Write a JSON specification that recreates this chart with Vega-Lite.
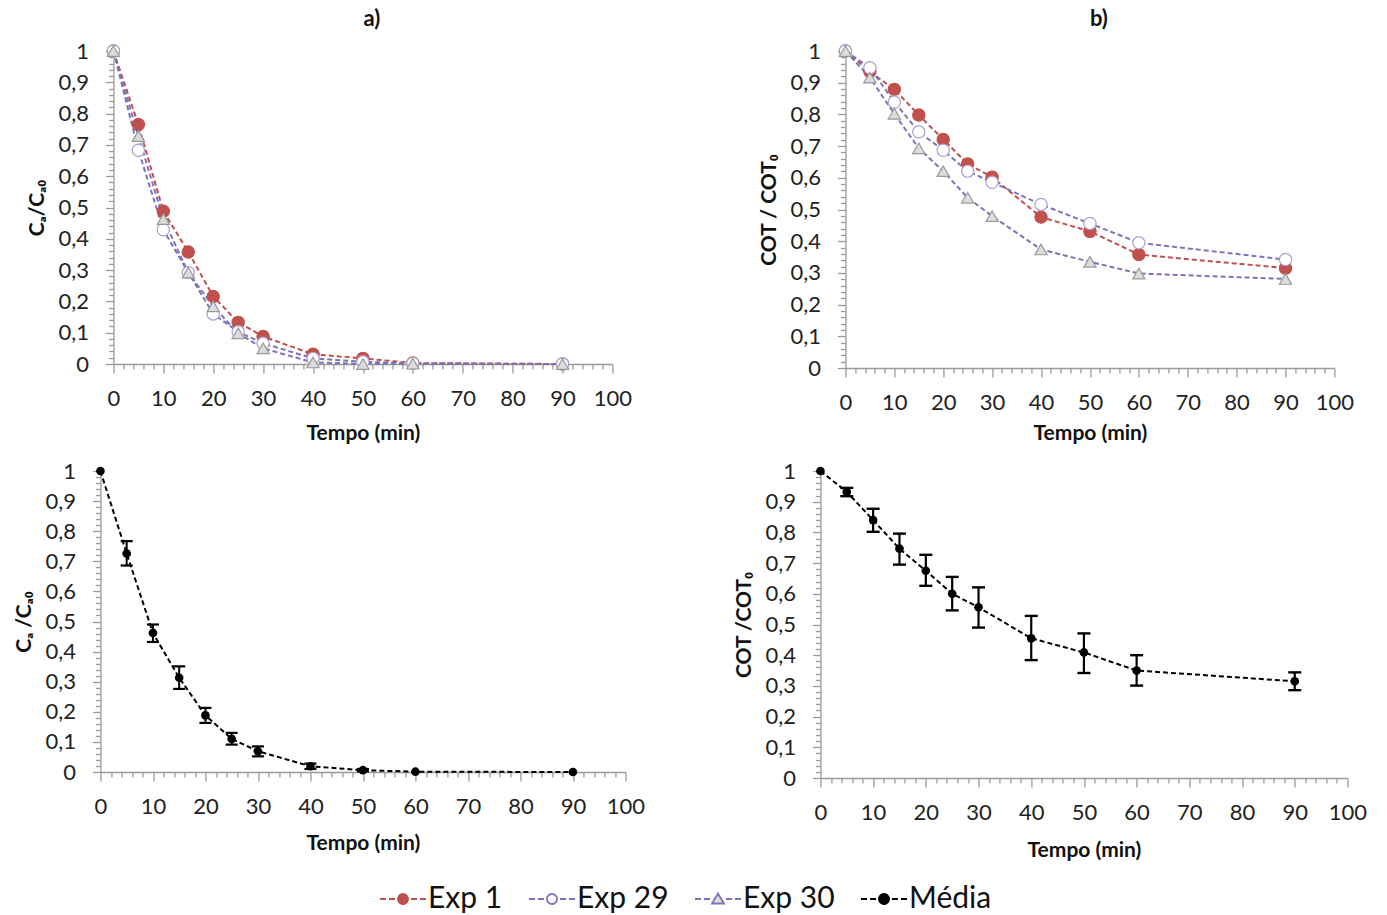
{
  "$schema": "https://vega.github.io/schema/vega-lite/v6.json",
  "padding": {"left": 13, "top": 8, "right": 8, "bottom": 6},
  "background": "white",
  "config": {
    "view": {"stroke": null},
    "font": "Lato",
    "axis": {
      "grid": false,
      "domainColor": "#9a9a9a",
      "domainWidth": 1.3,
      "tickColor": "#9a9a9a",
      "tickWidth": 1.3,
      "labelFont": "Lato",
      "labelFontSize": 22,
      "labelColor": "#222222",
      "titleFont": "Lato",
      "titleFontSize": 21,
      "titleFontWeight": "bold",
      "titleColor": "#111111",
      "labelOverlap": false,
      "labelFlush": false
    },
    "title": {"font": "Lato", "fontSize": 22, "fontWeight": "bold", "color": "#111111"}
  },
  "datasets": {
    "exp": [
      {"painel": "a", "serie": "Exp 1", "t": 0, "y": 1},
      {"painel": "a", "serie": "Exp 1", "t": 5, "y": 0.765},
      {"painel": "a", "serie": "Exp 1", "t": 10, "y": 0.488},
      {"painel": "a", "serie": "Exp 1", "t": 15, "y": 0.358},
      {"painel": "a", "serie": "Exp 1", "t": 20, "y": 0.216},
      {"painel": "a", "serie": "Exp 1", "t": 25, "y": 0.133},
      {"painel": "a", "serie": "Exp 1", "t": 30, "y": 0.088},
      {"painel": "a", "serie": "Exp 1", "t": 40, "y": 0.031},
      {"painel": "a", "serie": "Exp 1", "t": 50, "y": 0.018},
      {"painel": "a", "serie": "Exp 1", "t": 60, "y": 0.003},
      {"painel": "a", "serie": "Exp 1", "t": 90, "y": 0},
      {"painel": "a", "serie": "Exp 29", "t": 0, "y": 1},
      {"painel": "a", "serie": "Exp 29", "t": 5, "y": 0.683},
      {"painel": "a", "serie": "Exp 29", "t": 10, "y": 0.429},
      {"painel": "a", "serie": "Exp 29", "t": 15, "y": 0.292},
      {"painel": "a", "serie": "Exp 29", "t": 20, "y": 0.16},
      {"painel": "a", "serie": "Exp 29", "t": 25, "y": 0.103},
      {"painel": "a", "serie": "Exp 29", "t": 30, "y": 0.066},
      {"painel": "a", "serie": "Exp 29", "t": 40, "y": 0.018},
      {"painel": "a", "serie": "Exp 29", "t": 50, "y": 0.007},
      {"painel": "a", "serie": "Exp 29", "t": 60, "y": 0.002},
      {"painel": "a", "serie": "Exp 29", "t": 90, "y": 0},
      {"painel": "a", "serie": "Exp 30", "t": 0, "y": 1},
      {"painel": "a", "serie": "Exp 30", "t": 5, "y": 0.728},
      {"painel": "a", "serie": "Exp 30", "t": 10, "y": 0.463},
      {"painel": "a", "serie": "Exp 30", "t": 15, "y": 0.292},
      {"painel": "a", "serie": "Exp 30", "t": 20, "y": 0.184},
      {"painel": "a", "serie": "Exp 30", "t": 25, "y": 0.098},
      {"painel": "a", "serie": "Exp 30", "t": 30, "y": 0.05},
      {"painel": "a", "serie": "Exp 30", "t": 40, "y": 0.005},
      {"painel": "a", "serie": "Exp 30", "t": 50, "y": 0},
      {"painel": "a", "serie": "Exp 30", "t": 60, "y": 0.001},
      {"painel": "a", "serie": "Exp 30", "t": 90, "y": 0},
      {"painel": "b", "serie": "Exp 1", "t": 0, "y": 1},
      {"painel": "b", "serie": "Exp 1", "t": 5, "y": 0.935},
      {"painel": "b", "serie": "Exp 1", "t": 10, "y": 0.879},
      {"painel": "b", "serie": "Exp 1", "t": 15, "y": 0.798},
      {"painel": "b", "serie": "Exp 1", "t": 20, "y": 0.721},
      {"painel": "b", "serie": "Exp 1", "t": 25, "y": 0.644},
      {"painel": "b", "serie": "Exp 1", "t": 30, "y": 0.602},
      {"painel": "b", "serie": "Exp 1", "t": 40, "y": 0.476},
      {"painel": "b", "serie": "Exp 1", "t": 50, "y": 0.431},
      {"painel": "b", "serie": "Exp 1", "t": 60, "y": 0.358},
      {"painel": "b", "serie": "Exp 1", "t": 90, "y": 0.315},
      {"painel": "b", "serie": "Exp 29", "t": 0, "y": 1},
      {"painel": "b", "serie": "Exp 29", "t": 5, "y": 0.947},
      {"painel": "b", "serie": "Exp 29", "t": 10, "y": 0.839},
      {"painel": "b", "serie": "Exp 29", "t": 15, "y": 0.745},
      {"painel": "b", "serie": "Exp 29", "t": 20, "y": 0.687},
      {"painel": "b", "serie": "Exp 29", "t": 25, "y": 0.621},
      {"painel": "b", "serie": "Exp 29", "t": 30, "y": 0.586},
      {"painel": "b", "serie": "Exp 29", "t": 40, "y": 0.516},
      {"painel": "b", "serie": "Exp 29", "t": 50, "y": 0.456},
      {"painel": "b", "serie": "Exp 29", "t": 60, "y": 0.395},
      {"painel": "b", "serie": "Exp 29", "t": 90, "y": 0.342},
      {"painel": "b", "serie": "Exp 30", "t": 0, "y": 1},
      {"painel": "b", "serie": "Exp 30", "t": 5, "y": 0.916},
      {"painel": "b", "serie": "Exp 30", "t": 10, "y": 0.802},
      {"painel": "b", "serie": "Exp 30", "t": 15, "y": 0.693},
      {"painel": "b", "serie": "Exp 30", "t": 20, "y": 0.621},
      {"painel": "b", "serie": "Exp 30", "t": 25, "y": 0.537},
      {"painel": "b", "serie": "Exp 30", "t": 30, "y": 0.479},
      {"painel": "b", "serie": "Exp 30", "t": 40, "y": 0.374},
      {"painel": "b", "serie": "Exp 30", "t": 50, "y": 0.335},
      {"painel": "b", "serie": "Exp 30", "t": 60, "y": 0.298},
      {"painel": "b", "serie": "Exp 30", "t": 90, "y": 0.281}
    ],
    "media": [
      {"painel": "c", "t": 0, "y": 1, "lo": null, "hi": null},
      {"painel": "c", "t": 5, "y": 0.726, "lo": 0.686, "hi": 0.767},
      {"painel": "c", "t": 10, "y": 0.462, "lo": 0.432, "hi": 0.49},
      {"painel": "c", "t": 15, "y": 0.313, "lo": 0.276, "hi": 0.351},
      {"painel": "c", "t": 20, "y": 0.188, "lo": 0.163, "hi": 0.213},
      {"painel": "c", "t": 25, "y": 0.11, "lo": 0.091, "hi": 0.13},
      {"painel": "c", "t": 30, "y": 0.069, "lo": 0.052, "hi": 0.085},
      {"painel": "c", "t": 40, "y": 0.019, "lo": 0.01, "hi": 0.028},
      {"painel": "c", "t": 50, "y": 0.006, "lo": 0.002, "hi": 0.01},
      {"painel": "c", "t": 60, "y": 0.001, "lo": null, "hi": null},
      {"painel": "c", "t": 90, "y": 0, "lo": null, "hi": null},
      {"painel": "d", "t": 0, "y": 1, "lo": null, "hi": null},
      {"painel": "d", "t": 5, "y": 0.932, "lo": 0.918, "hi": 0.945},
      {"painel": "d", "t": 10, "y": 0.84, "lo": 0.802, "hi": 0.877},
      {"painel": "d", "t": 15, "y": 0.747, "lo": 0.695, "hi": 0.796},
      {"painel": "d", "t": 20, "y": 0.675, "lo": 0.626, "hi": 0.727},
      {"painel": "d", "t": 25, "y": 0.6, "lo": 0.546, "hi": 0.655},
      {"painel": "d", "t": 30, "y": 0.556, "lo": 0.49, "hi": 0.621},
      {"painel": "d", "t": 40, "y": 0.455, "lo": 0.384, "hi": 0.528},
      {"painel": "d", "t": 50, "y": 0.409, "lo": 0.342, "hi": 0.471},
      {"painel": "d", "t": 60, "y": 0.35, "lo": 0.301, "hi": 0.4},
      {"painel": "d", "t": 90, "y": 0.315, "lo": 0.286, "hi": 0.344}
    ]
  },
  "vconcat": [
    {
      "spacing": 126,
      "hconcat": [
        {
          "width": 499,
          "height": 313,
          "title": {"text": "a)", "frame": "group", "offset": 9, "dx": 9},
          "data": {"name": "exp"},
          "transform": [{"filter": "datum.painel === 'a'"}],
          "encoding": {
            "x": {"field": "t", "type": "quantitative", "scale": {"domain": [0, 100], "nice": false},
              "axis": {"title": "Tempo (min)", "values": [0,2,4,6,8,10,12,14,16,18,20,22,24,26,28,30,32,34,36,38,40,42,44,46,48,50,52,54,56,58,60,62,64,66,68,70,72,74,76,78,80,82,84,86,88,90,92,94,96,98,100],
                "labelExpr": "datum.value % 10 === 0 ? format(datum.value, 'd') : ''",
                "tickSize": {"condition": {"test": "datum.value % 10 === 0", "value": 9}, "value": 5},
                "encode": {"ticks": {"update": {"y": {"signal": "datum.value % 10 === 0 ? -7 : 0"}}}},
                "labelPadding": 15, "titlePadding": 13}},
            "y": {"field": "y", "type": "quantitative", "scale": {"domain": [0, 1], "nice": false},
              "axis": {"title": "Cₐ/Cₐ₀", "values": [0,0.02,0.04,0.06,0.08,0.1,0.12,0.14,0.16,0.18,0.2,0.22,0.24,0.26,0.28,0.3,0.32,0.34,0.36,0.38,0.4,0.42,0.44,0.46,0.48,0.5,0.52,0.54,0.56,0.58,0.6,0.62,0.64,0.66,0.68,0.7,0.72,0.74,0.76,0.78,0.8,0.82,0.84,0.86,0.88,0.9,0.92,0.94,0.96,0.98,1],
                "labelExpr": "abs(datum.value*10 - round(datum.value*10)) < 0.001 ? replace(format(datum.value, '.1~f'), '.', ',') : ''",
                "tickSize": {"condition": {"test": "abs(datum.value*10 - round(datum.value*10)) < 0.001", "value": 8}, "value": 5},
                "encode": {"ticks": {"update": {"x": {"signal": "abs(datum.value*10 - round(datum.value*10)) < 0.001 ? 7 : 0"}}}},
                "labelPadding": 17, "titlePadding": 10}}
          },
          "layer": [
            {
              "mark": {"type": "line", "strokeDash": [5, 3], "strokeWidth": 2},
              "encoding": {
                "color": {"field": "serie", "type": "nominal",
                  "scale": {"domain": ["Exp 1", "Exp 29", "Exp 30", "Média"], "range": ["#c0504d", "#7b74bb", "#7b74bb", "#000000"]},
                  "legend": {
                    "title": null, "orient": "none", "legendX": 288, "legendY": 833, "direction": "horizontal",
                    "labelFont": "Lato", "labelFontSize": 30, "labelColor": "#111111", "labelOffset": 10,
                    "symbolSize": 100, "symbolStrokeWidth": 2, "columnPadding": 22,
                    "encode": {
                      "symbols": {"update": {
                        "shape": {"signal": "datum.value === 'Exp 30' ? 'M-4.6,0H-3.4M-2.8,0H-1.6M1.6,0H2.8M3.4,0H4.6M0,-1.1L1.2,0.9L-1.2,0.9Z' : 'M-4.6,0H-3.4M-2.8,0H-1.6M1.6,0H2.8M3.4,0H4.6M-1,0A1,1 0 1,0 1,0A1,1 0 1,0 -1,0Z'"},
                        "fill": {"signal": "datum.value === 'Exp 1' ? '#c0504d' : datum.value === 'Exp 29' ? '#ffffff' : datum.value === 'Exp 30' ? '#dcdcdc' : '#000000'"},
                        "stroke": {"signal": "datum.value === 'Exp 1' ? '#c0504d' : datum.value === 'Média' ? '#000000' : '#7b74bb'"},
                        "strokeWidth": {"value": 1.8},
                        "strokeDash": {"value": [1, 0]},
                        "opacity": {"value": 1},
                        "fillOpacity": {"value": 1}
                      }}
                    }
                  }}
              }
            },
            {
              "mark": {"type": "point", "size": 150, "strokeWidth": 1.2, "opacity": 1, "fillOpacity": 1},
              "encoding": {
                "shape": {"field": "serie", "type": "nominal", "scale": {"domain": ["Exp 1", "Exp 29", "Exp 30"], "range": ["circle", "circle", "triangle-up"]}, "legend": null},
                "fill": {"field": "serie", "type": "nominal", "scale": {"domain": ["Exp 1", "Exp 29", "Exp 30"], "range": ["#c0504d", "#ffffff", "#dcdcdc"]}, "legend": null},
                "stroke": {"field": "serie", "type": "nominal", "scale": {"domain": ["Exp 1", "Exp 29", "Exp 30"], "range": ["#c0504d", "#aa9fd2", "#9a9a9a"]}, "legend": null}
              }
            }
          ]
        },
        {
          "width": 489,
          "height": 317,
          "title": {"text": "b)", "frame": "group", "offset": 9, "dx": 9},
          "data": {"name": "exp"},
          "transform": [{"filter": "datum.painel === 'b'"}],
          "encoding": {
            "x": {"field": "t", "type": "quantitative", "scale": {"domain": [0, 100], "nice": false},
              "axis": {"title": "Tempo (min)", "values": [0,2,4,6,8,10,12,14,16,18,20,22,24,26,28,30,32,34,36,38,40,42,44,46,48,50,52,54,56,58,60,62,64,66,68,70,72,74,76,78,80,82,84,86,88,90,92,94,96,98,100],
                "labelExpr": "datum.value % 10 === 0 ? format(datum.value, 'd') : ''",
                "tickSize": {"condition": {"test": "datum.value % 10 === 0", "value": 9}, "value": 5},
                "encode": {"ticks": {"update": {"y": {"signal": "datum.value % 10 === 0 ? -7 : 0"}}}},
                "labelPadding": 15, "titlePadding": 9}},
            "y": {"field": "y", "type": "quantitative", "scale": {"domain": [0, 1], "nice": false},
              "axis": {"title": "COT / COT₀", "values": [0,0.02,0.04,0.06,0.08,0.1,0.12,0.14,0.16,0.18,0.2,0.22,0.24,0.26,0.28,0.3,0.32,0.34,0.36,0.38,0.4,0.42,0.44,0.46,0.48,0.5,0.52,0.54,0.56,0.58,0.6,0.62,0.64,0.66,0.68,0.7,0.72,0.74,0.76,0.78,0.8,0.82,0.84,0.86,0.88,0.9,0.92,0.94,0.96,0.98,1],
                "labelExpr": "abs(datum.value*10 - round(datum.value*10)) < 0.001 ? replace(format(datum.value, '.1~f'), '.', ',') : ''",
                "tickSize": {"condition": {"test": "abs(datum.value*10 - round(datum.value*10)) < 0.001", "value": 8}, "value": 5},
                "encode": {"ticks": {"update": {"x": {"signal": "abs(datum.value*10 - round(datum.value*10)) < 0.001 ? 7 : 0"}}}},
                "labelPadding": 17, "titlePadding": 10}}
          },
          "layer": [
            {
              "mark": {"type": "line", "strokeDash": [5, 3], "strokeWidth": 2},
              "encoding": {
                "color": {"field": "serie", "type": "nominal",
                  "scale": {"domain": ["Exp 1", "Exp 29", "Exp 30", "Média"], "range": ["#c0504d", "#7b74bb", "#7b74bb", "#000000"]}}
              }
            },
            {
              "mark": {"type": "point", "size": 150, "strokeWidth": 1.2, "opacity": 1, "fillOpacity": 1},
              "encoding": {
                "shape": {"field": "serie", "type": "nominal", "scale": {"domain": ["Exp 1", "Exp 29", "Exp 30"], "range": ["circle", "circle", "triangle-up"]}, "legend": null},
                "fill": {"field": "serie", "type": "nominal", "scale": {"domain": ["Exp 1", "Exp 29", "Exp 30"], "range": ["#c0504d", "#ffffff", "#dcdcdc"]}, "legend": null},
                "stroke": {"field": "serie", "type": "nominal", "scale": {"domain": ["Exp 1", "Exp 29", "Exp 30"], "range": ["#c0504d", "#aa9fd2", "#9a9a9a"]}, "legend": null}
              }
            }
          ]
        }
      ]
    },
    {
      "spacing": 88,
      "hconcat": [
        {
          "width": 525,
          "height": 301,
          "data": {"name": "media"},
          "transform": [{"filter": "datum.painel === 'c'"}],
          "encoding": {
            "x": {"field": "t", "type": "quantitative", "scale": {"domain": [0, 100], "nice": false},
              "axis": {"title": "Tempo (min)", "values": [0,2,4,6,8,10,12,14,16,18,20,22,24,26,28,30,32,34,36,38,40,42,44,46,48,50,52,54,56,58,60,62,64,66,68,70,72,74,76,78,80,82,84,86,88,90,92,94,96,98,100],
                "labelExpr": "datum.value % 10 === 0 ? format(datum.value, 'd') : ''",
                "tickSize": {"condition": {"test": "datum.value % 10 === 0", "value": 9}, "value": 5},
                "encode": {"ticks": {"update": {"y": {"signal": "datum.value % 10 === 0 ? -7 : 0"}}}},
                "labelPadding": 15, "titlePadding": 15}}
          },
          "layer": [
            {
              "mark": {"type": "line", "strokeDash": [5, 3], "strokeWidth": 2, "color": "#000000"},
              "encoding": {
                "y": {"field": "y", "type": "quantitative", "scale": {"domain": [0, 1], "nice": false},
                  "axis": {"title": "Cₐ /Cₐ₀", "values": [0,0.02,0.04,0.06,0.08,0.1,0.12,0.14,0.16,0.18,0.2,0.22,0.24,0.26,0.28,0.3,0.32,0.34,0.36,0.38,0.4,0.42,0.44,0.46,0.48,0.5,0.52,0.54,0.56,0.58,0.6,0.62,0.64,0.66,0.68,0.7,0.72,0.74,0.76,0.78,0.8,0.82,0.84,0.86,0.88,0.9,0.92,0.94,0.96,0.98,1],
                    "labelExpr": "abs(datum.value*10 - round(datum.value*10)) < 0.001 ? replace(format(datum.value, '.1~f'), '.', ',') : ''",
                    "tickSize": {"condition": {"test": "abs(datum.value*10 - round(datum.value*10)) < 0.001", "value": 8}, "value": 5},
                    "encode": {"ticks": {"update": {"x": {"signal": "abs(datum.value*10 - round(datum.value*10)) < 0.001 ? 7 : 0"}}}},
                    "labelPadding": 17, "titlePadding": 10}}
              }
            },
            {
              "mark": {"type": "rule", "strokeWidth": 2, "color": "#000000"},
              "encoding": {
                "y": {"field": "lo", "type": "quantitative", "scale": {"domain": [0, 1], "nice": false},
                  "axis": {"title": "Cₐ /Cₐ₀", "values": [0,0.02,0.04,0.06,0.08,0.1,0.12,0.14,0.16,0.18,0.2,0.22,0.24,0.26,0.28,0.3,0.32,0.34,0.36,0.38,0.4,0.42,0.44,0.46,0.48,0.5,0.52,0.54,0.56,0.58,0.6,0.62,0.64,0.66,0.68,0.7,0.72,0.74,0.76,0.78,0.8,0.82,0.84,0.86,0.88,0.9,0.92,0.94,0.96,0.98,1],
                    "labelExpr": "abs(datum.value*10 - round(datum.value*10)) < 0.001 ? replace(format(datum.value, '.1~f'), '.', ',') : ''",
                    "tickSize": {"condition": {"test": "abs(datum.value*10 - round(datum.value*10)) < 0.001", "value": 8}, "value": 5},
                    "encode": {"ticks": {"update": {"x": {"signal": "abs(datum.value*10 - round(datum.value*10)) < 0.001 ? 7 : 0"}}}},
                    "labelPadding": 17, "titlePadding": 10}},
                "y2": {"field": "hi"}}
            },
            {
              "mark": {"type": "tick", "orient": "horizontal", "size": 12, "thickness": 2.2, "color": "#000000", "opacity": 1},
              "encoding": {
                "y": {"field": "lo", "type": "quantitative", "scale": {"domain": [0, 1], "nice": false},
                  "axis": {"title": "Cₐ /Cₐ₀", "values": [0,0.02,0.04,0.06,0.08,0.1,0.12,0.14,0.16,0.18,0.2,0.22,0.24,0.26,0.28,0.3,0.32,0.34,0.36,0.38,0.4,0.42,0.44,0.46,0.48,0.5,0.52,0.54,0.56,0.58,0.6,0.62,0.64,0.66,0.68,0.7,0.72,0.74,0.76,0.78,0.8,0.82,0.84,0.86,0.88,0.9,0.92,0.94,0.96,0.98,1],
                    "labelExpr": "abs(datum.value*10 - round(datum.value*10)) < 0.001 ? replace(format(datum.value, '.1~f'), '.', ',') : ''",
                    "tickSize": {"condition": {"test": "abs(datum.value*10 - round(datum.value*10)) < 0.001", "value": 8}, "value": 5},
                    "encode": {"ticks": {"update": {"x": {"signal": "abs(datum.value*10 - round(datum.value*10)) < 0.001 ? 7 : 0"}}}},
                    "labelPadding": 17, "titlePadding": 10}}}
            },
            {
              "mark": {"type": "tick", "orient": "horizontal", "size": 12, "thickness": 2.2, "color": "#000000", "opacity": 1},
              "encoding": {
                "y": {"field": "hi", "type": "quantitative", "scale": {"domain": [0, 1], "nice": false},
                  "axis": {"title": "Cₐ /Cₐ₀", "values": [0,0.02,0.04,0.06,0.08,0.1,0.12,0.14,0.16,0.18,0.2,0.22,0.24,0.26,0.28,0.3,0.32,0.34,0.36,0.38,0.4,0.42,0.44,0.46,0.48,0.5,0.52,0.54,0.56,0.58,0.6,0.62,0.64,0.66,0.68,0.7,0.72,0.74,0.76,0.78,0.8,0.82,0.84,0.86,0.88,0.9,0.92,0.94,0.96,0.98,1],
                    "labelExpr": "abs(datum.value*10 - round(datum.value*10)) < 0.001 ? replace(format(datum.value, '.1~f'), '.', ',') : ''",
                    "tickSize": {"condition": {"test": "abs(datum.value*10 - round(datum.value*10)) < 0.001", "value": 8}, "value": 5},
                    "encode": {"ticks": {"update": {"x": {"signal": "abs(datum.value*10 - round(datum.value*10)) < 0.001 ? 7 : 0"}}}},
                    "labelPadding": 17, "titlePadding": 10}}}
            },
            {
              "mark": {"type": "point", "filled": true, "size": 75, "color": "#000000", "opacity": 1},
              "encoding": {
                "y": {"field": "y", "type": "quantitative", "scale": {"domain": [0, 1], "nice": false},
                  "axis": {"title": "Cₐ /Cₐ₀", "values": [0,0.02,0.04,0.06,0.08,0.1,0.12,0.14,0.16,0.18,0.2,0.22,0.24,0.26,0.28,0.3,0.32,0.34,0.36,0.38,0.4,0.42,0.44,0.46,0.48,0.5,0.52,0.54,0.56,0.58,0.6,0.62,0.64,0.66,0.68,0.7,0.72,0.74,0.76,0.78,0.8,0.82,0.84,0.86,0.88,0.9,0.92,0.94,0.96,0.98,1],
                    "labelExpr": "abs(datum.value*10 - round(datum.value*10)) < 0.001 ? replace(format(datum.value, '.1~f'), '.', ',') : ''",
                    "tickSize": {"condition": {"test": "abs(datum.value*10 - round(datum.value*10)) < 0.001", "value": 8}, "value": 5},
                    "encode": {"ticks": {"update": {"x": {"signal": "abs(datum.value*10 - round(datum.value*10)) < 0.001 ? 7 : 0"}}}},
                    "labelPadding": 17, "titlePadding": 10}}}
            }
          ]
        },
        {
          "width": 527,
          "height": 307,
          "data": {"name": "media"},
          "transform": [{"filter": "datum.painel === 'd'"}],
          "encoding": {
            "x": {"field": "t", "type": "quantitative", "scale": {"domain": [0, 100], "nice": false},
              "axis": {"title": "Tempo (min)", "values": [0,2,4,6,8,10,12,14,16,18,20,22,24,26,28,30,32,34,36,38,40,42,44,46,48,50,52,54,56,58,60,62,64,66,68,70,72,74,76,78,80,82,84,86,88,90,92,94,96,98,100],
                "labelExpr": "datum.value % 10 === 0 ? format(datum.value, 'd') : ''",
                "tickSize": {"condition": {"test": "datum.value % 10 === 0", "value": 9}, "value": 5},
                "encode": {"ticks": {"update": {"y": {"signal": "datum.value % 10 === 0 ? -7 : 0"}}}},
                "labelPadding": 15, "titlePadding": 16}}
          },
          "layer": [
            {
              "mark": {"type": "line", "strokeDash": [5, 3], "strokeWidth": 2, "color": "#000000"},
              "encoding": {
                "y": {"field": "y", "type": "quantitative", "scale": {"domain": [0, 1], "nice": false},
                  "axis": {"title": "COT /COT₀", "values": [0,0.02,0.04,0.06,0.08,0.1,0.12,0.14,0.16,0.18,0.2,0.22,0.24,0.26,0.28,0.3,0.32,0.34,0.36,0.38,0.4,0.42,0.44,0.46,0.48,0.5,0.52,0.54,0.56,0.58,0.6,0.62,0.64,0.66,0.68,0.7,0.72,0.74,0.76,0.78,0.8,0.82,0.84,0.86,0.88,0.9,0.92,0.94,0.96,0.98,1],
                    "labelExpr": "abs(datum.value*10 - round(datum.value*10)) < 0.001 ? replace(format(datum.value, '.1~f'), '.', ',') : ''",
                    "tickSize": {"condition": {"test": "abs(datum.value*10 - round(datum.value*10)) < 0.001", "value": 8}, "value": 5},
                    "encode": {"ticks": {"update": {"x": {"signal": "abs(datum.value*10 - round(datum.value*10)) < 0.001 ? 7 : 0"}}}},
                    "labelPadding": 17, "titlePadding": 10}}
              }
            },
            {
              "mark": {"type": "rule", "strokeWidth": 2.2, "color": "#000000"},
              "encoding": {
                "y": {"field": "lo", "type": "quantitative", "scale": {"domain": [0, 1], "nice": false},
                  "axis": {"title": "COT /COT₀", "values": [0,0.02,0.04,0.06,0.08,0.1,0.12,0.14,0.16,0.18,0.2,0.22,0.24,0.26,0.28,0.3,0.32,0.34,0.36,0.38,0.4,0.42,0.44,0.46,0.48,0.5,0.52,0.54,0.56,0.58,0.6,0.62,0.64,0.66,0.68,0.7,0.72,0.74,0.76,0.78,0.8,0.82,0.84,0.86,0.88,0.9,0.92,0.94,0.96,0.98,1],
                    "labelExpr": "abs(datum.value*10 - round(datum.value*10)) < 0.001 ? replace(format(datum.value, '.1~f'), '.', ',') : ''",
                    "tickSize": {"condition": {"test": "abs(datum.value*10 - round(datum.value*10)) < 0.001", "value": 8}, "value": 5},
                    "encode": {"ticks": {"update": {"x": {"signal": "abs(datum.value*10 - round(datum.value*10)) < 0.001 ? 7 : 0"}}}},
                    "labelPadding": 17, "titlePadding": 10}},
                "y2": {"field": "hi"}}
            },
            {
              "mark": {"type": "tick", "orient": "horizontal", "size": 13, "thickness": 2.4, "color": "#000000", "opacity": 1},
              "encoding": {
                "y": {"field": "lo", "type": "quantitative", "scale": {"domain": [0, 1], "nice": false},
                  "axis": {"title": "COT /COT₀", "values": [0,0.02,0.04,0.06,0.08,0.1,0.12,0.14,0.16,0.18,0.2,0.22,0.24,0.26,0.28,0.3,0.32,0.34,0.36,0.38,0.4,0.42,0.44,0.46,0.48,0.5,0.52,0.54,0.56,0.58,0.6,0.62,0.64,0.66,0.68,0.7,0.72,0.74,0.76,0.78,0.8,0.82,0.84,0.86,0.88,0.9,0.92,0.94,0.96,0.98,1],
                    "labelExpr": "abs(datum.value*10 - round(datum.value*10)) < 0.001 ? replace(format(datum.value, '.1~f'), '.', ',') : ''",
                    "tickSize": {"condition": {"test": "abs(datum.value*10 - round(datum.value*10)) < 0.001", "value": 8}, "value": 5},
                    "encode": {"ticks": {"update": {"x": {"signal": "abs(datum.value*10 - round(datum.value*10)) < 0.001 ? 7 : 0"}}}},
                    "labelPadding": 17, "titlePadding": 10}}}
            },
            {
              "mark": {"type": "tick", "orient": "horizontal", "size": 13, "thickness": 2.4, "color": "#000000", "opacity": 1},
              "encoding": {
                "y": {"field": "hi", "type": "quantitative", "scale": {"domain": [0, 1], "nice": false},
                  "axis": {"title": "COT /COT₀", "values": [0,0.02,0.04,0.06,0.08,0.1,0.12,0.14,0.16,0.18,0.2,0.22,0.24,0.26,0.28,0.3,0.32,0.34,0.36,0.38,0.4,0.42,0.44,0.46,0.48,0.5,0.52,0.54,0.56,0.58,0.6,0.62,0.64,0.66,0.68,0.7,0.72,0.74,0.76,0.78,0.8,0.82,0.84,0.86,0.88,0.9,0.92,0.94,0.96,0.98,1],
                    "labelExpr": "abs(datum.value*10 - round(datum.value*10)) < 0.001 ? replace(format(datum.value, '.1~f'), '.', ',') : ''",
                    "tickSize": {"condition": {"test": "abs(datum.value*10 - round(datum.value*10)) < 0.001", "value": 8}, "value": 5},
                    "encode": {"ticks": {"update": {"x": {"signal": "abs(datum.value*10 - round(datum.value*10)) < 0.001 ? 7 : 0"}}}},
                    "labelPadding": 17, "titlePadding": 10}}}
            },
            {
              "mark": {"type": "point", "filled": true, "size": 75, "color": "#000000", "opacity": 1},
              "encoding": {
                "y": {"field": "y", "type": "quantitative", "scale": {"domain": [0, 1], "nice": false},
                  "axis": {"title": "COT /COT₀", "values": [0,0.02,0.04,0.06,0.08,0.1,0.12,0.14,0.16,0.18,0.2,0.22,0.24,0.26,0.28,0.3,0.32,0.34,0.36,0.38,0.4,0.42,0.44,0.46,0.48,0.5,0.52,0.54,0.56,0.58,0.6,0.62,0.64,0.66,0.68,0.7,0.72,0.74,0.76,0.78,0.8,0.82,0.84,0.86,0.88,0.9,0.92,0.94,0.96,0.98,1],
                    "labelExpr": "abs(datum.value*10 - round(datum.value*10)) < 0.001 ? replace(format(datum.value, '.1~f'), '.', ',') : ''",
                    "tickSize": {"condition": {"test": "abs(datum.value*10 - round(datum.value*10)) < 0.001", "value": 8}, "value": 5},
                    "encode": {"ticks": {"update": {"x": {"signal": "abs(datum.value*10 - round(datum.value*10)) < 0.001 ? 7 : 0"}}}},
                    "labelPadding": 17, "titlePadding": 10}}}
            }
          ]
        }
      ]
    }
  ],
  "spacing": 17,
  "center": true
}
